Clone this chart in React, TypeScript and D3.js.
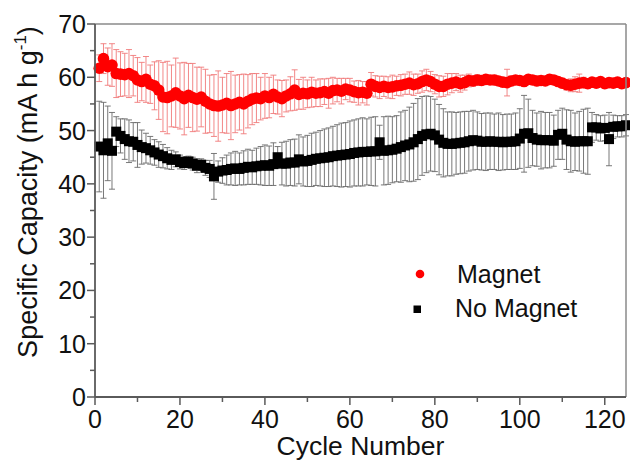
import React from "react";
import * as d3 from "d3";

// capacity per cycle (mA h g-1)
const magnet = [
  61.7, 63.5, 62.0, 62.3, 60.7, 60.6, 60.5, 60.7, 60.3, 59.5,
  59.2, 59.6, 58.7, 58.4, 57.6, 56.3, 56.2, 56.5, 57.1, 56.5,
  56.0, 56.6, 56.2, 55.9, 56.3, 55.5, 55.0, 54.7, 54.6, 54.8,
  55.1, 54.7, 55.0, 55.3, 55.0, 55.5, 55.9, 56.1, 56.0, 56.5,
  56.2, 56.8, 56.3, 56.0, 56.5, 56.9, 57.6, 56.8, 57.0, 56.9,
  57.2, 57.0, 57.1, 57.3, 57.0, 57.5, 57.6, 57.4, 57.8, 57.6,
  57.3, 57.1, 57.2, 57.0, 58.7, 58.3, 58.1, 58.3, 58.1, 58.2,
  58.4, 58.5, 58.7, 58.9, 58.6, 58.8, 59.2, 59.5, 59.2, 58.7,
  58.3, 58.3, 58.7, 58.9, 59.1, 58.8, 59.0, 59.4, 59.3, 59.5,
  59.4, 59.6, 59.5, 59.5, 59.3, 59.1, 59.0, 59.3, 59.5, 59.4,
  59.2, 59.6, 59.5, 59.3, 59.4, 59.3, 59.6, 59.5, 59.2, 58.9,
  58.6, 58.5, 58.7, 58.9, 59.0, 58.8, 59.1, 58.9, 59.2, 58.8,
  59.0, 58.9, 59.1, 58.8, 59.0,
];
const magnetErr = [
  2.5, 2.8, 3.5, 4.0, 4.5, 4.2, 4.0, 4.5, 3.8, 4.2,
  3.6, 4.3, 3.6, 4.5, 5.5, 6.5, 6.8, 5.8, 6.5, 6.2,
  6.8, 6.0, 6.4, 6.0, 5.6, 6.0, 5.4, 5.8, 6.6, 5.2,
  5.6, 6.4, 5.4, 5.2, 5.6, 5.0, 4.8, 4.6, 4.0, 4.2,
  3.8, 3.6, 3.2, 3.4, 3.0, 3.2, 3.8, 2.8, 3.0, 2.6,
  2.8, 2.5, 2.6, 2.4, 2.8, 2.5, 2.2, 2.4, 2.0, 2.2,
  2.0, 2.3, 2.0, 2.2, 2.2, 2.0, 2.1, 1.9, 2.0, 2.2,
  1.8, 2.0, 1.9, 2.1, 2.0, 1.8, 2.0, 2.0, 1.9, 1.8,
  2.0, 1.9, 2.0, 1.8, 1.6, 1.6, 1.4, 1.2, 1.0, 1.0,
  0.9, 0.8, 0.8, 0.9, 0.8, 0.9, 2.5, 0.9, 0.8, 0.8,
  0.9, 0.8, 0.8, 0.9, 0.8, 0.8, 0.9, 0.8, 0.8, 0.9,
  1.0, 1.2, 1.4, 1.7, 1.0, 0.9, 0.8, 0.8, 0.8, 0.8,
  0.8, 0.8, 0.8, 0.8, 0.8,
];
const noMagnet = [
  47.0, 46.3, 47.6, 46.2, 49.8, 49.0, 48.4, 48.0, 47.9, 47.3,
  46.9, 46.7, 46.3, 45.9, 45.5, 45.2, 44.8, 44.5, 44.6, 44.1,
  43.9, 44.2, 43.8, 43.4, 43.6, 43.0, 42.8, 41.4, 42.3, 42.5,
  42.6, 42.8, 42.9, 42.8, 43.0, 43.2, 43.1, 43.3, 43.4, 43.5,
  43.4, 43.7, 45.0, 43.8, 43.8, 44.0, 44.0, 44.6, 44.2, 44.3,
  44.5, 44.7, 44.8, 44.9, 45.0, 45.2, 45.3, 45.4, 45.5, 45.6,
  45.8, 45.9, 46.0, 46.0, 46.1, 46.1, 47.8, 46.2, 46.3, 46.4,
  46.6, 46.9, 47.2, 47.4, 47.8, 48.4, 49.0, 49.3, 49.4, 49.1,
  48.3, 47.7, 47.5, 47.5, 47.6, 47.7, 47.8, 48.0, 48.2, 48.1,
  47.9, 47.9, 48.0, 47.9, 47.9, 47.8, 47.9, 47.9, 48.0, 48.5,
  49.4, 49.5, 48.6, 48.3, 48.2, 48.2, 48.2, 48.1, 49.2, 49.4,
  48.3, 48.0, 47.9, 48.0, 48.0, 48.0, 50.6, 50.6, 50.4, 50.5,
  48.4, 50.7, 50.8, 50.8, 51.0,
];
const noMagnetErr = [
  8.5, 9.0, 7.0, 7.2, 2.8, 3.2, 3.8, 4.0, 3.6, 4.2,
  3.2, 2.8, 2.6, 2.4, 2.4, 2.2, 2.0, 1.8, 1.4, 1.3,
  1.2, 1.0, 1.2, 1.3, 1.1, 1.4, 1.6, 4.3, 2.0, 2.4,
  2.8, 3.0, 3.2, 3.0, 3.2, 3.3, 3.2, 3.4, 3.6, 3.8,
  3.7, 4.0, 2.0, 4.0, 4.2, 4.3, 4.4, 4.6, 4.6, 4.8,
  5.0, 5.0, 5.2, 5.4, 5.5, 5.6, 5.8, 6.0, 6.0, 6.2,
  6.2, 6.3, 6.4, 6.2, 6.4, 6.5, 3.2, 6.4, 6.4, 6.2,
  6.2, 6.6, 6.6, 7.0, 7.3, 7.6, 7.4, 7.2, 7.0, 6.8,
  6.6, 6.4, 6.0, 6.0, 5.8, 5.8, 5.8, 5.6, 5.6, 5.4,
  5.3, 5.4, 5.3, 5.2, 5.4, 5.2, 5.2, 5.2, 5.3, 5.6,
  7.2, 6.4, 5.2, 5.0, 5.4, 5.2, 5.2, 4.8, 4.6, 4.8,
  5.6, 5.8, 5.4, 5.6, 6.0, 6.2, 2.8, 2.4, 2.4, 2.4,
  5.0, 2.2, 2.0, 2.0, 2.0,
];
const seriesNames = ["Magnet", "No Magnet"];
const xTicks = [0, 20, 40, 60, 80, 100, 120];
const yTicks = [0, 10, 20, 30, 40, 50, 60, 70];

const W = 630;
const H = 461;
const left = 95;
const right = 626;
const top = 24;
const bottom = 397;
const font = "Liberation Sans, Arial, sans-serif";
const axisColor = "#5a5a5a";

export default function App() {
  const x = d3.scaleLinear().domain([0, 125]).range([left, right]);
  const y = d3.scaleLinear().domain([0, 70]).range([bottom, top]);

  const xMinor = d3.range(10, 125, 20);
  const yMinor = d3.range(5, 70, 10);
  const cap = 3;

  const errBars = (vals, errs, color, width) =>
    vals.map((v, i) => {
      const cx = x(i + 1);
      const y1 = y(v + errs[i]);
      const y2 = y(v - errs[i]);
      return (
        <g key={i} stroke={color} strokeWidth={width} fill="none">
          <line x1={cx} x2={cx} y1={y1} y2={y2} />
          <line x1={cx - cap} x2={cx + cap} y1={y1} y2={y1} />
          <line x1={cx - cap} x2={cx + cap} y1={y2} y2={y2} />
        </g>
      );
    });

  return (
    <>
      <style>{`body{margin:0}`}</style>
      <svg width={W} height={H} style={{ display: "block" }} fontFamily={font}>
        <rect width={W} height={H} fill="#fff" />

        {/* No Magnet */}
        {errBars(noMagnet, noMagnetErr, "#6a6a6a", 0.9)}
        {noMagnet.map((v, i) => (
          <rect key={i} x={x(i + 1) - 5} y={y(v) - 5} width={10} height={10} fill="#000" />
        ))}

        {/* Magnet */}
        {errBars(magnet, magnetErr, "#f07a7a", 0.9)}
        {magnet.map((v, i) => (
          <circle key={i} cx={x(i + 1)} cy={y(v)} r={5.8} fill="#ff0000" />
        ))}

        {/* frame */}
        <line x1={left} x2={right} y1={top} y2={top} stroke="#8a8a8a" strokeWidth={1.5} />
        <line x1={right} x2={right} y1={top} y2={bottom} stroke="#8a8a8a" strokeWidth={1.5} />
        <line x1={left} x2={right} y1={bottom} y2={bottom} stroke={axisColor} strokeWidth={1.8} />
        <line x1={left} x2={left} y1={top} y2={bottom} stroke={axisColor} strokeWidth={1.8} />

        {xTicks.map((t) => (
          <g key={t}>
            <line x1={x(t)} x2={x(t)} y1={bottom} y2={bottom + 8} stroke={axisColor} strokeWidth={1.5} />
            <text x={x(t)} y={428} fontSize={25} textAnchor="middle" fill="#111">{t}</text>
          </g>
        ))}
        {xMinor.map((t) => (
          <line key={t} x1={x(t)} x2={x(t)} y1={bottom} y2={bottom + 5} stroke={axisColor} strokeWidth={1.5} />
        ))}
        {yTicks.map((t) => (
          <g key={t}>
            <line x1={left - 8} x2={left} y1={y(t)} y2={y(t)} stroke={axisColor} strokeWidth={1.5} />
            <text x={left - 9} y={y(t)} dy="0.36em" fontSize={25} textAnchor="end" fill="#111">{t}</text>
          </g>
        ))}
        {yMinor.map((t) => (
          <line key={t} x1={left - 5} x2={left} y1={y(t)} y2={y(t)} stroke={axisColor} strokeWidth={1.5} />
        ))}

        <text x={(left + right) / 2} y={455} fontSize={26.5} textAnchor="middle" fill="#111">
          Cycle Number
        </text>
        <text transform="translate(37,192) rotate(-90)" fontSize={27} textAnchor="middle" fill="#111">
          Specific Capacity (mA h g<tspan fontSize={17} dy={-11}>-1</tspan>
          <tspan dy={11}>)</tspan>
        </text>

        {/* legend */}
        <circle cx={420} cy={274} r={4.3} fill="#ff0000" />
        <text x={457} y={283} fontSize={25} fill="#111">{seriesNames[0]}</text>
        <rect x={413.5} y={305.5} width={7.5} height={7.5} fill="#000" />
        <text x={455} y={317} fontSize={25} fill="#111">{seriesNames[1]}</text>
      </svg>
    </>
  );
}
